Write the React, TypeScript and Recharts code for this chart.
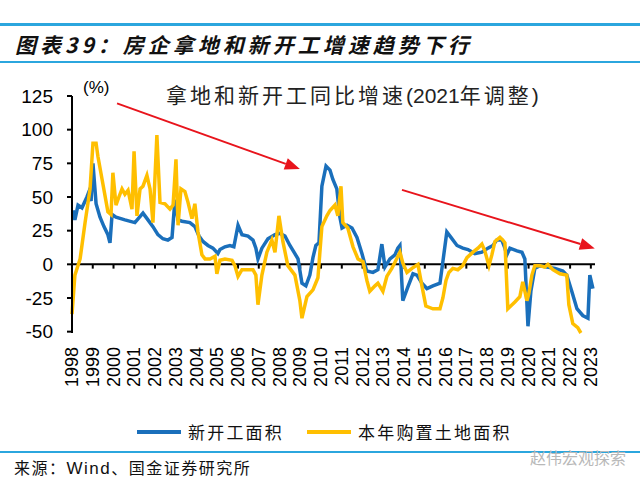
import React from 'react';
import { LineChart, Line, XAxis, YAxis, ReferenceLine } from 'recharts';

const yearTicks = [1998, 1999, 2000, 2001, 2002, 2003, 2004, 2005, 2006, 2007, 2008, 2009, 2010, 2011, 2012, 2013, 2014, 2015, 2016, 2017, 2018, 2019, 2020, 2021, 2022, 2023];
const valueTicks = [-50, -25, 0, 25, 50, 75, 100, 125];

const seriesNames = ['新开工面积', '本年购置土地面积'];
const seriesColors = ['#1a6fbb', '#ffbf00'];

const newStartDates = [
  1998.05, 1998.14, 1998.29, 1998.48, 1998.72, 1998.82, 1998.92, 1999.01, 1999.16, 1999.35,
  1999.54, 1999.73, 1999.83, 1999.93, 2000.12, 2000.55, 2001.03, 2001.42, 2001.66, 2001.90,
  2002.14, 2002.38, 2002.62, 2002.82, 2002.96, 2003.11, 2003.30, 2003.68, 2003.92, 2004.12,
  2004.31, 2004.55, 2004.79, 2005.03, 2005.13, 2005.37, 2005.61, 2005.80, 2006.00, 2006.19,
  2006.48, 2006.72, 2006.86, 2006.96, 2007.15, 2007.44, 2007.78, 2008.02, 2008.26, 2008.50,
  2008.74, 2008.89, 2009.08, 2009.27, 2009.46, 2009.61, 2009.75, 2009.90, 2010.04, 2010.24,
  2010.43, 2010.57, 2010.76, 2010.91, 2011.01, 2011.25, 2011.49, 2011.73, 2011.97, 2012.20,
  2012.50, 2012.74, 2012.93, 2013.08, 2013.32, 2013.56, 2013.70, 2013.80, 2013.94, 2014.18,
  2014.43, 2014.62, 2014.86, 2015.10, 2015.39, 2015.73, 2015.87, 2016.06, 2016.26, 2016.55,
  2016.83, 2017.08, 2017.41, 2017.75, 2018.04, 2018.28, 2018.47, 2018.71, 2018.86, 2018.95,
  2019.10, 2019.44, 2019.68, 2019.82, 2019.97, 2020.11, 2020.30, 2020.54, 2020.88, 2021.27,
  2021.65, 2021.84, 2022.08, 2022.33, 2022.61, 2022.86, 2022.95, 2023.10,
];
const newStartValues = [
  40, 33, 44, 42, 50, 54, 47, 75, 45, 35,
  28, 22, 16, 37, 35, 33, 31, 38, 33, 28,
  22, 19, 18, 20, 48, 33, 32, 31, 28, 21,
  17, 14, 12, 8, 11, 13, 14, 13, 29, 22,
  21, 18, 12, 4, 12, 19, 22, 23, 21, 14,
  8, 4, -14, -16, -8, 5, 14, 16, 58, 73,
  70, 63, 56, 35, 27, 29, 27, 20, 8, -5,
  -6, -4, 15, -2, 4, 7, 12, 14, -27, -17,
  -7, -8, -14, -18, -16, -14, 2, 24, 20, 14,
  12, 11, 8, 9, 12, 14, 18, 18, 12, 7,
  12, 10, 9, 4, -46, -20, -3, -1, -2, -3,
  -5, -8, -20, -33, -38, -40, -8, -18,
];

const landDates = [
  1998.00, 1998.14, 1998.39, 1998.63, 1998.87, 1999.01, 1999.16, 1999.25, 1999.45, 1999.59,
  1999.73, 1999.88, 1999.97, 2000.12, 2000.26, 2000.41, 2000.55, 2000.70, 2000.89, 2000.99,
  2001.13, 2001.28, 2001.42, 2001.61, 2001.76, 2001.90, 2002.09, 2002.24, 2002.48, 2002.72,
  2002.87, 2003.01, 2003.11, 2003.25, 2003.44, 2003.59, 2003.78, 2003.92, 2004.07, 2004.26,
  2004.41, 2004.65, 2004.89, 2004.98, 2005.13, 2005.37, 2005.71, 2005.85, 2006.00, 2006.19,
  2006.43, 2006.72, 2006.86, 2006.96, 2007.15, 2007.39, 2007.63, 2007.78, 2007.97, 2008.16,
  2008.40, 2008.74, 2008.98, 2009.08, 2009.32, 2009.61, 2009.85, 2010.04, 2010.28, 2010.43,
  2010.67, 2010.81, 2010.96, 2011.05, 2011.29, 2011.54, 2011.78, 2012.02, 2012.21, 2012.35,
  2012.60, 2012.74, 2012.98, 2013.17, 2013.41, 2013.61, 2013.80, 2013.94, 2014.14, 2014.38,
  2014.67, 2014.86, 2015.05, 2015.39, 2015.73, 2015.87, 2016.02, 2016.16, 2016.35, 2016.59,
  2016.83, 2017.03, 2017.32, 2017.56, 2017.75, 2017.89, 2018.09, 2018.23, 2018.38, 2018.62,
  2018.76, 2018.86, 2019.00, 2019.34, 2019.58, 2019.72, 2019.92, 2020.01, 2020.16, 2020.30,
  2020.54, 2020.78, 2020.93, 2021.17, 2021.51, 2021.84, 2021.94, 2022.13, 2022.37, 2022.52,
];
const landValues = [
  -37, -8, 4, 31, 56, 90, 90, 80, 63, 51,
  39, 37, 68, 44, 50, 56, 52, 55, 41, 84,
  36, 56, 58, 66, 56, 31, 96, 46, 45, 41,
  44, 78, 29, 56, 54, 46, 34, 45, 24, 7,
  4, 4, 6, -7, 3, 4, 3, -1, -9, -4,
  -4, -4, -8, -30, -8, 9, 18, 9, 36, 17,
  -1, -8, -27, -40, -24, -19, -10, 28, 36, 40,
  44, 36, 58, 31, 27, 13, 4, 2, -12, -20,
  -16, -14, -20, -9, -3, 3, 9, 1, -6, -3,
  0, -16, -31, -33, -33, -25, -12, -6, -3, -4,
  -1, 5, 9, 12, 15, 10, -1, 7, 17, 20,
  18, 16, -33, -28, -24, -13, -27, -22, -8, -1,
  -1, -2, 0, -4, -7, -8, -30, -44, -47, -51,
];

const arrowStartYears = [2000.17, 2013.9];
const arrowStartValues = [119.5, 55.3];
const arrowEndYears = [2008.98, 2023.19];
const arrowEndValues = [70.8, 11.8];

const newStartData = newStartDates.map((t, i) => ({ t, v: newStartValues[i] }));
const landData = landDates.map((t, i) => ({ t, v: landValues[i] }));

const FONT = '"Liberation Sans", Arial, sans-serif';
const CJK = '"Noto Sans CJK SC", "Liberation Sans", sans-serif';

const XTick = (props: any) => {
  const { x, y, payload } = props;
  const ty = y + 12;
  return (
    <text
      x={x}
      y={ty}
      transform={`rotate(-90 ${x} ${ty})`}
      textAnchor="end"
      dominantBaseline="central"
      fontSize={18}
      fontFamily={FONT}
      fill="#000"
    >
      {payload.value}
    </text>
  );
};

const ArrowShape = (props: any) => {
  const { x1, y1, x2, y2 } = props;
  const ang = Math.atan2(y2 - y1, x2 - x1);
  const len = 15;
  const half = 6;
  const bx = x2 - len * Math.cos(ang);
  const by = y2 - len * Math.sin(ang);
  const px = -Math.sin(ang) * half;
  const py = Math.cos(ang) * half;
  return (
    <g>
      <line x1={x1} y1={y1} x2={bx} y2={by} stroke="#e8141c" strokeWidth={2} />
      <polygon points={`${x2},${y2} ${bx + px},${by + py} ${bx - px},${by - py}`} fill="#e8141c" />
    </g>
  );
};

export default function App() {
  return (
    <div style={{ position: 'absolute', left: 0, top: 0, width: 640, height: 487, background: '#fff', overflow: 'hidden' }}>
      <div style={{ position: 'absolute', left: 0, top: 23, width: 640, height: 3, background: '#2ba6de' }} />
      <div
        style={{
          position: 'absolute', left: 15, top: 30, fontFamily: CJK, fontSize: 21, fontStyle: 'italic',
          fontWeight: 700, color: '#111', letterSpacing: 4, lineHeight: '28px', whiteSpace: 'nowrap',
        }}
      >
        图表39：房企拿地和新开工增速趋势下行
      </div>
      <div style={{ position: 'absolute', left: 0, top: 61, width: 640, height: 2, background: '#2ba6de' }} />

      <LineChart
        width={640}
        height={487}
        margin={{ top: 96, right: 45, bottom: 94, left: 12 }}
        style={{ position: 'absolute', left: 0, top: 0 }}
      >
        <XAxis
          xAxisId={0}
          dataKey="t"
          type="number"
          domain={[1998, 2023.2]}
          ticks={yearTicks}
          interval={0}
          axisLine={false}
          tickLine={false}
          tickSize={0}
          height={60}
          tick={<XTick />}
          allowDuplicatedCategory={false}
        />
        <YAxis
          yAxisId={0}
          type="number"
          domain={[-50, 125]}
          ticks={valueTicks}
          interval={0}
          width={60}
          axisLine={{ stroke: '#000', strokeWidth: 2 }}
          tickLine={{ stroke: '#000', strokeWidth: 2 }}
          tickSize={5}
          tickMargin={14}
          tick={{ fontSize: 19, fontFamily: FONT, fill: '#000' }}
        />
        <ReferenceLine y={0} stroke="#000" strokeWidth={2} />
        {yearTicks.slice(1).map((yr) => (
          <ReferenceLine
            key={yr}
            segment={[{ x: yr, y: 0 }, { x: yr, y: -3.2 }]}
            stroke="#000"
            strokeWidth={2}
          />
        ))}
        <Line
          data={newStartData}
          dataKey="v"
          name={seriesNames[0]}
          stroke={seriesColors[0]}
          strokeWidth={3.5}
          dot={false}
          isAnimationActive={false}
          type="linear"
        />
        <Line
          data={landData}
          dataKey="v"
          name={seriesNames[1]}
          stroke={seriesColors[1]}
          strokeWidth={3.5}
          dot={false}
          isAnimationActive={false}
          type="linear"
        />
        {arrowStartYears.map((sx, i) => (
          <ReferenceLine
            key={'arrow' + i}
            segment={[
              { x: sx, y: arrowStartValues[i] },
              { x: arrowEndYears[i], y: arrowEndValues[i] },
            ]}
            ifOverflow="visible"
            shape={(p: any) => <ArrowShape {...p} />}
          />
        ))}
      </LineChart>

      <div style={{ position: 'absolute', left: 83, top: 78, fontFamily: FONT, fontSize: 17, color: '#000', lineHeight: '20px' }}>
        (%)
      </div>
      <div
        style={{
          position: 'absolute', left: 166, top: 82, fontFamily: CJK, fontSize: 21, color: '#222',
          lineHeight: '24px', whiteSpace: 'nowrap', letterSpacing: 3,
        }}
      >
        拿地和新开工同比增速<span style={{ fontFamily: FONT, letterSpacing: 0 }}>(2021</span>年调整<span style={{ fontFamily: FONT }}>)</span>
      </div>

      {seriesNames.map((name, i) => (
        <div
          key={name}
          style={{ position: 'absolute', left: i === 0 ? 137 : 307, top: 421, display: 'flex', alignItems: 'center', whiteSpace: 'nowrap' }}
        >
          <div style={{ width: 44, height: 4, background: seriesColors[i], marginRight: 7 }} />
          <span style={{ fontFamily: CJK, fontSize: 17, color: '#111', letterSpacing: 2.2, lineHeight: '22px' }}>{name}</span>
        </div>
      ))}

      <div style={{ position: 'absolute', left: 0, top: 451, width: 640, height: 2, background: '#2ba6de' }} />
      <div style={{ position: 'absolute', left: 14, top: 457, fontFamily: CJK, fontSize: 16, color: '#111', lineHeight: '20px', whiteSpace: 'nowrap', letterSpacing: 1.5 }}>
        来源：<span style={{ fontFamily: FONT, fontSize: 17 }}>Wind</span>、国金证券研究所
      </div>
      <div style={{ position: 'absolute', left: 530, top: 447, fontFamily: CJK, fontSize: 16, color: '#b8b8b8', lineHeight: '20px', whiteSpace: 'nowrap' }}>
        赵伟宏观探索
      </div>
    </div>
  );
}
